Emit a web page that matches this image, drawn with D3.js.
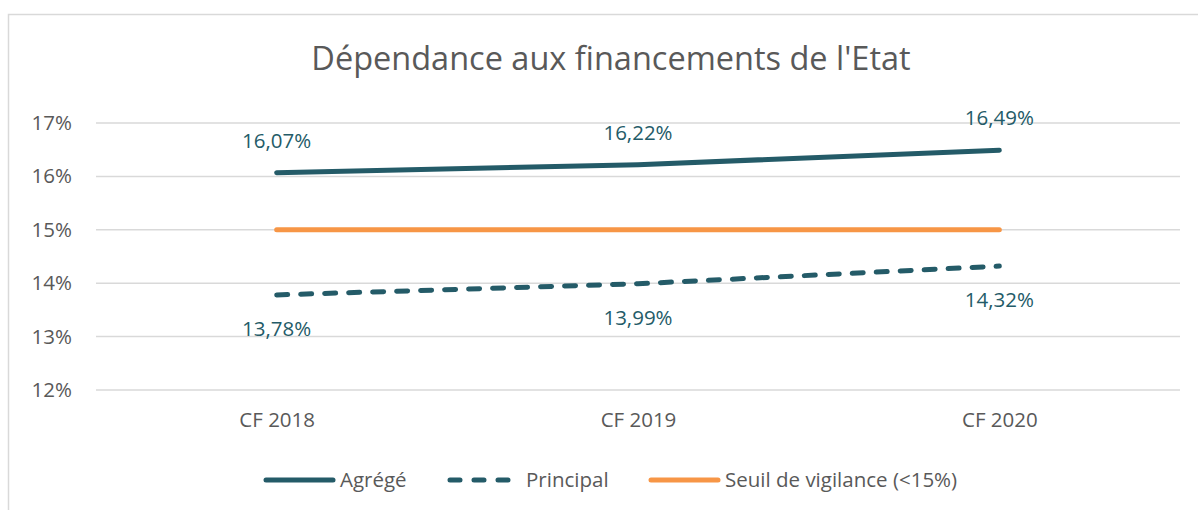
<!DOCTYPE html>
<html>
<head>
<meta charset="utf-8">
<script src="https://cdn.jsdelivr.net/npm/d3@7"></script>
<style>
  body { margin: 0; background: #fff; }
  svg text { font-family: "Open Sans", sans-serif; }
</style>
</head>
<body>
<svg id="chart" width="1198" height="510"></svg>
<script>
// data
var categories = ["CF 2018", "CF 2019", "CF 2020"];
var agrege = [16.07, 16.22, 16.49];
var principal = [13.78, 13.99, 14.32];
var seuil = [15, 15, 15];
var yTicks = [12, 13, 14, 15, 16, 17];
var title = "Dépendance aux financements de l'Etat";

var teal = "#245b68";
var orange = "#f79646";
var grey = "#595959";
var fs = 20.5;

var svg = d3.select("#chart");

// outer border
svg.append("rect")
  .attr("x", 8.5).attr("y", 14.5)
  .attr("width", 1220).attr("height", 520)
  .attr("fill", "none").attr("stroke", "#d9d9d9").attr("stroke-width", 1.5);

// title
svg.append("text")
  .attr("x", 611).attr("y", 70)
  .attr("text-anchor", "middle")
  .attr("font-size", 32.5)
  .attr("fill", grey)
  .text(title);

var xScale = d3.scalePoint().domain(categories).range([96, 1180]).padding(0.5);
var yScale = d3.scaleLinear().domain([12, 17]).range([390, 123]);

// gridlines
svg.append("g").selectAll("line")
  .data(yTicks)
  .enter()
  .append("line")
  .attr("x1", 96).attr("x2", 1180)
  .attr("y1", function(d) { return yScale(d); })
  .attr("y2", function(d) { return yScale(d); })
  .attr("stroke", "#d9d9d9").attr("stroke-width", 1.5);

// y axis
var yAxis = svg.append("g")
  .attr("transform", "translate(72,0)")
  .call(d3.axisLeft(yScale).tickValues(yTicks).tickSize(0).tickPadding(0)
    .tickFormat(function(d) { return d + "%"; }));
yAxis.select(".domain").remove();
yAxis.selectAll("text").attr("font-size", fs).attr("fill", grey)
  .attr("font-family", "Open Sans, sans-serif");

// x axis
var xAxis = svg.append("g")
  .attr("transform", "translate(0,412)")
  .call(d3.axisBottom(xScale).tickSize(0).tickPadding(0));
xAxis.select(".domain").remove();
xAxis.selectAll("text").attr("font-size", fs).attr("fill", grey)
  .attr("font-family", "Open Sans, sans-serif");

var line = d3.line()
  .x(function(d, i) { return xScale(categories[i]); })
  .y(function(d) { return yScale(d); });

svg.append("path").datum(seuil)
  .attr("d", line).attr("fill", "none")
  .attr("stroke", orange).attr("stroke-width", 5).attr("stroke-linecap", "round");

svg.append("path").datum(principal)
  .attr("d", line).attr("fill", "none")
  .attr("stroke", teal).attr("stroke-width", 5).attr("stroke-linecap", "round")
  .attr("stroke-dasharray", "11,13");

svg.append("path").datum(agrege)
  .attr("d", line).attr("fill", "none")
  .attr("stroke", teal).attr("stroke-width", 5).attr("stroke-linecap", "round");

function fmt(v) { return v.toFixed(2).replace(".", ",") + "%"; }

// data labels
svg.append("g").selectAll("text")
  .data(agrege)
  .enter()
  .append("text")
  .attr("x", function(d, i) { return xScale(categories[i]); })
  .attr("y", function(d) { return yScale(d) - 32; })
  .attr("dy", "0.35em")
  .attr("text-anchor", "middle")
  .attr("font-size", fs)
  .attr("fill", teal)
  .text(fmt);

svg.append("g").selectAll("text")
  .data(principal)
  .enter()
  .append("text")
  .attr("x", function(d, i) { return xScale(categories[i]); })
  .attr("y", function(d) { return yScale(d) + 34; })
  .attr("dy", "0.35em")
  .attr("text-anchor", "middle")
  .attr("font-size", fs)
  .attr("fill", teal)
  .text(fmt);

// legend
var legend = [
  { name: "Agrégé", color: teal, dash: null, x1: 266, x2: 333, tx: 340 },
  { name: "Principal", color: teal, dash: "10,14", x1: 450, x2: 512, tx: 526 },
  { name: "Seuil de vigilance (<15%)", color: orange, dash: null, x1: 651, x2: 718, tx: 725 }
];
var lg = svg.append("g").selectAll("g").data(legend).enter().append("g");
lg.append("line")
  .attr("x1", function(d) { return d.x1; })
  .attr("x2", function(d) { return d.x2; })
  .attr("y1", 480).attr("y2", 480)
  .attr("stroke", function(d) { return d.color; })
  .attr("stroke-width", 5).attr("stroke-linecap", "round")
  .attr("stroke-dasharray", function(d) { return d.dash; });
lg.append("text")
  .attr("x", function(d) { return d.tx; })
  .attr("y", 480).attr("dy", "0.35em")
  .attr("font-size", fs).attr("fill", grey)
  .text(function(d) { return d.name; });
</script>
</body>
</html>
